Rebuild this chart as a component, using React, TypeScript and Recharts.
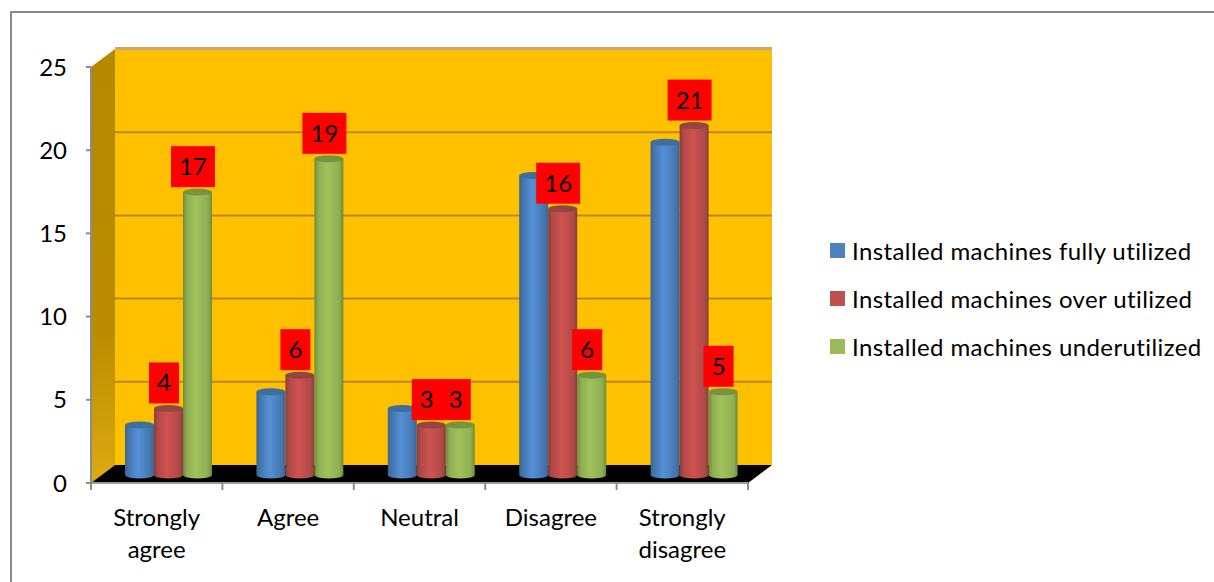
import React from 'react';
import {
  BarChart,
  Bar,
  XAxis,
  YAxis,
  CartesianGrid,
  Legend,
  LabelList,
  Customized,
  usePlotArea
} from 'recharts';

const categories = ['Strongly agree', 'Agree', 'Neutral', 'Disagree', 'Strongly disagree'];
const fullyUtilized = [3, 5, 4, 18, 20];
const overUtilized = [4, 6, 3, 16, 21];
const underUtilized = [17, 19, 3, 6, 5];
const yTicks = [0, 5, 10, 15, 20, 25];
const gridValues = [5, 10, 15, 20];

const FONT = 'Lato, "Open Sans", sans-serif';

// The 3D box: how far the back wall sits from the axes
const DEPTH_X = 24;
const DEPTH_Y = 18;
// Where the columns stand between the front edge and the back wall
const BAR_DX = 12;
const BAR_DY = -8;
const BAR_RY = 3.5;

const rows = categories.map((name, i) => ({
  name,
  fully: fullyUtilized[i],
  over: overUtilized[i],
  under: underUtilized[i]
}));

const gradients = [
  { id: 'barBlue', edge: '#3c6690', mid: '#5590d6', side: '#4477b0' },
  { id: 'barRed', edge: '#8a3d39', mid: '#d0524f', side: '#b04a48' },
  { id: 'barGreen', edge: '#6f8a3c', mid: '#a0c25c', side: '#8fae52' }
];

const Box3D = () => {
  const plot = usePlotArea();
  if (!plot) return null;
  const { x, y, width, height } = plot;
  const bottom = y + height;
  const right = x + width;
  return (
    <g>
      <defs>
        {gradients.map(g => (
          <linearGradient key={g.id} id={g.id} x1="0" y1="0" x2="1" y2="0">
            <stop offset="0%" stopColor={g.edge} />
            <stop offset="14%" stopColor={g.side} />
            <stop offset="45%" stopColor={g.mid} />
            <stop offset="86%" stopColor={g.side} />
            <stop offset="100%" stopColor={g.edge} />
          </linearGradient>
        ))}
        <linearGradient id="sideWall" x1="0" y1="0" x2="0" y2="1">
          <stop offset="0%" stopColor="#b58800" />
          <stop offset="65%" stopColor="#bb8c00" />
          <stop offset="100%" stopColor="#dcaa10" />
        </linearGradient>
      </defs>
      <rect x={x + DEPTH_X} y={y - DEPTH_Y} width={width} height={height} fill="#ffc000" />
      <rect x={x + DEPTH_X} y={y - DEPTH_Y - 2} width={width} height={3} fill="#c9a868" />
      <polygon
        points={`${x},${y} ${x + DEPTH_X},${y - DEPTH_Y} ${x + DEPTH_X},${bottom - DEPTH_Y} ${x},${bottom}`}
        fill="url(#sideWall)"
      />
      <polygon
        points={`${x},${bottom} ${right},${bottom} ${right + DEPTH_X},${bottom - DEPTH_Y} ${x + DEPTH_X},${bottom - DEPTH_Y}`}
        fill="#000000"
      />
    </g>
  );
};

const GridLine = (props: any) => (
  <line
    x1={props.x1 + DEPTH_X}
    x2={props.x2 + DEPTH_X}
    y1={props.y1 - DEPTH_Y}
    y2={props.y2 - DEPTH_Y}
    stroke="#b8862c"
    strokeWidth={2}
  />
);

const Cylinder = (props: any) => {
  const { x, y, width, height, gradient, cap } = props;
  const left = x + BAR_DX;
  const top = y + BAR_DY;
  const rx = width / 2;
  return (
    <g>
      <path
        d={`M${left},${top} L${left},${top + height} A${rx},${BAR_RY} 0 0 0 ${left + width},${top + height} L${left + width},${top} Z`}
        fill={`url(#${gradient})`}
      />
      <ellipse cx={left + rx} cy={top} rx={rx} ry={BAR_RY} fill={cap} />
    </g>
  );
};

const ValueBox = (props: any) => {
  const { x, y, width, value } = props;
  const boxW = String(value).length > 1 ? 44 : 30;
  const cx = x + width / 2 + 7.5;
  const cy = y - 33.5;
  return (
    <g>
      <rect x={cx - boxW / 2} y={cy - 20.5} width={boxW} height={41} fill="#ff0000" />
      <text
        x={cx}
        y={cy + 8.5}
        textAnchor="middle"
        fontFamily={FONT}
        fontSize={24}
        fill="#000000"
      >
        {value}
      </text>
    </g>
  );
};

const CategoryTick = (props: any) => {
  const plot = usePlotArea();
  const { x, payload, index } = props;
  if (!plot) return null;
  const step = plot.width / categories.length;
  const axisY = plot.y + plot.height;
  const lines = String(payload.value).split(' ');
  return (
    <g>
      <line x1={x - step / 2} x2={x - step / 2} y1={axisY} y2={axisY + 7} stroke="#8c8c8c" strokeWidth={2} />
      {index === categories.length - 1 && (
        <line x1={x + step / 2} x2={x + step / 2} y1={axisY} y2={axisY + 7} stroke="#8c8c8c" strokeWidth={2} />
      )}
      {lines.map((line, i) => (
        <text
          key={line}
          x={x}
          y={axisY + 43 + i * 32}
          textAnchor="middle"
          fontFamily={FONT}
          fontSize={24}
          fill="#000000"
        >
          {line}
        </text>
      ))}
    </g>
  );
};

const LegendList = ({ payload }: any) => (
  <div style={{ paddingLeft: 82, fontFamily: FONT, fontSize: 24, letterSpacing: 0.4, color: '#000000' }}>
    {(payload || []).map((entry: any) => (
      <div key={entry.value} style={{ display: 'flex', alignItems: 'center', height: 48, whiteSpace: 'nowrap' }}>
        <span style={{ width: 15, height: 15, background: entry.color, marginRight: 7, flex: 'none' }} />
        {entry.value}
      </div>
    ))}
  </div>
);

const App: React.FC = () => {
  return (
    <div style={{ position: 'absolute', left: 0, top: 0, width: 1214, height: 582, overflow: 'hidden', background: '#ffffff' }}>
      <div
        style={{
          position: 'absolute',
          left: 10,
          top: 11,
          width: 1300,
          height: 700,
          borderTop: '2px solid #8a8a8a',
          borderLeft: '2px solid #8a8a8a'
        }}
      />
      <BarChart
        width={1214}
        height={582}
        data={rows}
        barSize={29}
        barGap={0}
        margin={{ top: 67, left: 31, right: 8, bottom: 39 }}
        style={{ position: 'absolute', left: 0, top: 0 }}
      >
        <Customized component={Box3D} />
        <CartesianGrid
          zIndex={10}
          vertical={false}
          horizontalValues={gridValues}
          horizontal={(p: any) => <GridLine key={p.key} {...p} />}
        />
        <XAxis
          dataKey="name"
          height={60}
          interval={0}
          tickLine={false}
          axisLine={{ stroke: '#9a9a9a', strokeWidth: 2 }}
          tick={(p: any) => <CategoryTick {...p} />}
        />
        <YAxis
          width={60}
          domain={[0, 25]}
          ticks={yTicks}
          tickSize={5}
          tickMargin={19}
          axisLine={{ stroke: '#8c8c8c', strokeWidth: 2 }}
          tickLine={{ stroke: '#8c8c8c', strokeWidth: 2 }}
          tick={{ fontFamily: FONT, fontSize: 24, fill: '#000000' }}
        />
        <Legend
          layout="vertical"
          align="right"
          verticalAlign="middle"
          width={458}
          wrapperStyle={{ top: 226 }}
          content={<LegendList />}
        />
        <Bar
          dataKey="fully"
          name="Installed machines fully utilized"
          fill="#4f81bd"
          isAnimationActive={false}
          shape={(p: any) => <Cylinder {...p} gradient="barBlue" cap="#3d6f9e" />}
        />
        <Bar
          dataKey="over"
          name="Installed machines over utilized"
          fill="#c0504d"
          isAnimationActive={false}
          shape={(p: any) => <Cylinder {...p} gradient="barRed" cap="#96443f" />}
        >
          <LabelList dataKey="over" content={<ValueBox />} />
        </Bar>
        <Bar
          dataKey="under"
          name="Installed machines underutilized"
          fill="#9bbb59"
          isAnimationActive={false}
          shape={(p: any) => <Cylinder {...p} gradient="barGreen" cap="#78923f" />}
        >
          <LabelList dataKey="under" content={<ValueBox />} />
        </Bar>
      </BarChart>
    </div>
  );
};

export default App;
